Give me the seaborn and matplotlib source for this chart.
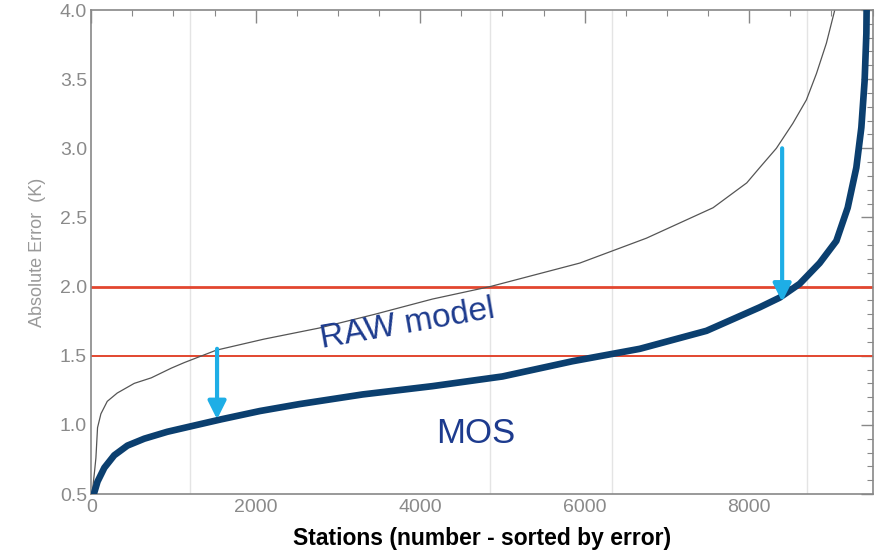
import numpy as np
import pandas as pd
import matplotlib
matplotlib.use("Agg")
import matplotlib.pyplot as plt
from matplotlib.ticker import MultipleLocator, FormatStrFormatter
import seaborn as sns

# data
raw_x = [0, 20, 40, 57, 77, 118, 195, 316, 523, 730, 973, 1130, 1520, 2100,
         2770, 3450, 4150, 4850, 5940, 6750, 7560, 7970, 8127, 8330, 8530,
         8695, 8817, 8938, 9040]
raw_y = [0.5, 0.55, 0.66, 0.76, 0.98, 1.08, 1.17, 1.23, 1.30, 1.34, 1.41, 1.45,
         1.54, 1.62, 1.70, 1.80, 1.91, 2.0, 2.17, 2.35, 2.57, 2.75, 2.86, 3.0,
         3.18, 3.35, 3.54, 3.76, 4.0]

mos_x = [0, 37, 77, 160, 280, 440, 645, 925, 1215, 1580, 2050, 2530, 3300,
         4150, 5000, 5850, 6670, 7480, 8127, 8370, 8613, 8856, 9059, 9197,
         9302, 9363, 9403, 9424, 9428]
mos_y = [0.45, 0.51, 0.59, 0.69, 0.78, 0.85, 0.90, 0.95, 0.99, 1.04, 1.10, 1.15,
         1.22, 1.28, 1.35, 1.46, 1.55, 1.68, 1.85, 1.92, 2.02, 2.17, 2.33, 2.57,
         2.86, 3.15, 3.49, 3.83, 4.05]

thresholds = [1.5, 2.0]
threshold_widths = [1.4, 2.0]
grid_x = [1200, 4850, 6330, 8700]

# arrows: (x, from, to)
arrow_x = [1530, 8400]
arrow_from = [1.55, 3.0]
arrow_to = [1.04, 1.89]

raw = pd.DataFrame({"station": raw_x, "error": raw_y})
mos = pd.DataFrame({"station": mos_x, "error": mos_y})

sns.set_style("white")
plt.rcParams["font.family"] = ["Liberation Sans", "DejaVu Sans"]

fig = plt.figure(figsize=(8.77, 5.56), dpi=100)
ax = fig.add_axes([0.104, 0.1115, 0.891, 0.8705])

for gx in grid_x:
    ax.axvline(gx, color="#e4e4e4", lw=1, zorder=0)

for t, w in zip(thresholds, threshold_widths):
    ax.axhline(t, color="#e2462f", lw=w, zorder=1)

sns.lineplot(data=raw, x="station", y="error", color="#555555", lw=0.9, ax=ax,
             zorder=2, solid_joinstyle="round")
sns.lineplot(data=mos, x="station", y="error", color="#0b3f6f", lw=4.8, ax=ax,
             zorder=3, solid_capstyle="butt", solid_joinstyle="round")

for x, y0, y1 in zip(arrow_x, arrow_from, arrow_to):
    ax.annotate("", xy=(x, y1), xytext=(x, y0),
                arrowprops=dict(arrowstyle="-|>", color="#1eaee6", lw=3,
                                mutation_scale=27, shrinkA=0, shrinkB=0),
                zorder=4)

ax.text(3840, 1.73, "RAW model", color="#1d3b8e", fontsize=24,
        rotation=10, ha="center", va="center")
ax.text(4680, 0.94, "MOS", color="#1d3b8e", fontsize=25,
        ha="center", va="center")

ax.set_xlim(0, 9500)
ax.set_ylim(0.5, 4.0)
ax.xaxis.set_major_locator(MultipleLocator(2000))
ax.xaxis.set_minor_locator(MultipleLocator(500))
ax.yaxis.set_major_locator(MultipleLocator(0.5))
ax.yaxis.set_minor_locator(MultipleLocator(0.1))
ax.yaxis.set_major_formatter(FormatStrFormatter("%.1f"))

ax.tick_params(which="both", direction="in", top=True, right=True,
               color="#888888", labelcolor="#8a8a8a", labelsize=14)
ax.tick_params(which="major", length=9, width=1)
ax.tick_params(which="minor", length=4.5, width=0.8)
ax.tick_params(axis="y", pad=3)
for s in ax.spines.values():
    s.set_color("#888888")
    s.set_linewidth(1.2)

ax.set_xlabel("Stations (number - sorted by error)", fontsize=16.5,
              fontweight="bold", color="black", labelpad=8)
ax.set_ylabel("Absolute Error  (K)", fontsize=13, color="#999999", labelpad=10)

fig.savefig("out.png", dpi=100)
